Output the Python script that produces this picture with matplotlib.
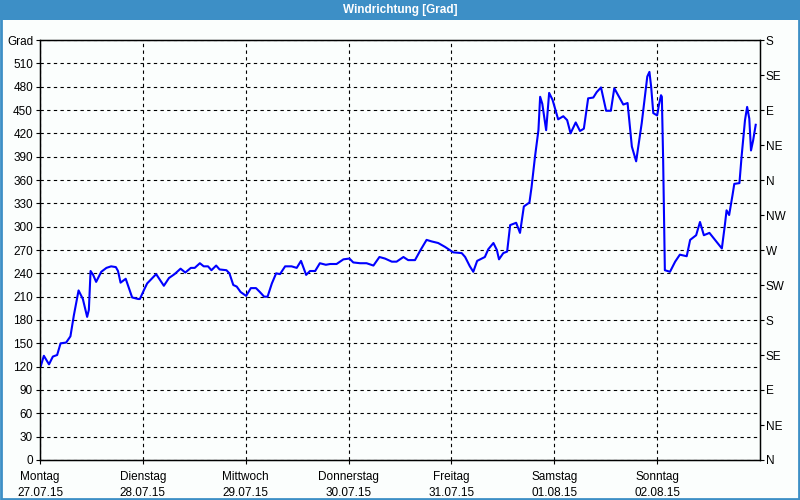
import matplotlib
matplotlib.use("Agg")
import matplotlib.pyplot as plt
from matplotlib.patches import Rectangle

# hours since Monday 27.07.15 00:00 and wind direction in degrees
hours = [0.2, 0.9, 2.1, 3.0, 4.0, 4.8, 6.1, 7.1, 7.9, 9.0, 10.0, 11.0, 11.4, 11.8,
         12.4, 13.1, 14.3, 15.5, 16.6, 17.7, 18.2, 18.8, 20.0, 20.7, 21.5, 22.9,
         23.3, 24.3, 25.0, 27.1, 28.9, 30.1, 31.4, 32.8, 33.9, 35.2, 36.1, 37.3,
         38.2, 39.2, 40.0, 41.1, 41.9, 43.5, 44.2, 45.1, 45.9, 46.8, 48.1, 49.2,
         50.4, 51.3, 52.3, 53.1, 54.1, 55.1, 56.0, 57.2, 58.7, 59.9, 60.9, 62.1,
         63.0, 64.2, 65.3, 66.7, 67.7, 69.2, 70.8, 72.2, 73.1, 74.7, 76.2, 77.8,
         79.2, 80.5, 82.1, 83.2, 84.8, 85.9, 87.5, 88.8, 90.2, 91.4, 92.9, 94.5,
         96.4, 98.4, 99.2, 100.3, 101.1, 102.0, 103.8, 104.6, 105.8, 106.6, 107.1,
         108.1, 109.0, 109.7, 111.1, 112.0, 112.9, 114.2, 114.7, 115.5, 116.3,
         116.7, 117.2, 118.1, 118.8, 119.6, 120.9, 122.1, 123.0, 123.8, 125.0,
         126.0, 126.9, 127.9, 129.1, 129.9, 130.9, 132.1, 133.2, 134.0, 134.9,
         136.1, 137.1, 138.1, 139.1, 140.4, 141.7, 142.2, 142.6, 143.1, 144.0,
         144.4, 144.9, 145.1, 145.4, 145.8, 147.0, 148.2, 149.3, 150.9, 151.7,
         153.1, 154.0, 154.9, 156.2, 157.5, 159.1, 159.8, 160.2, 160.8, 161.6,
         162.0, 163.2, 163.7, 164.5, 165.0, 165.5, 165.9, 166.4, 167.0]
degrees = [121, 134, 123, 133, 135, 150, 151, 159, 186, 218, 207, 184, 193, 243,
           238, 229, 242, 247, 249, 248, 243, 228, 233, 222, 209, 207,
           207, 219, 227, 239, 224, 234, 239, 246, 241, 247, 247, 253,
           249, 249, 244, 250, 245, 244, 240, 225, 223, 216, 211, 221,
           221, 216, 210, 210, 227, 240, 239, 249, 249, 247, 256, 238,
           243, 243, 253, 251, 252, 252, 258, 259, 254, 253, 253, 250,
           261, 259, 255, 255, 261, 257, 257, 270, 283, 281, 279, 274,
           267, 266, 261, 249, 242, 256, 261, 271, 279, 270, 258,
           266, 268, 302, 305, 292, 326, 331, 351, 390, 424,
           467, 458, 424, 472, 463, 438, 442, 437, 420, 434,
           423, 426, 465, 466, 473, 479, 449, 449, 478, 469,
           457, 459, 403, 384, 433, 493, 499, 480, 446, 443,
           456, 469, 467, 386, 244, 242, 255, 264, 262, 283,
           289, 306, 289, 292, 283, 272, 302, 321, 315, 341,
           355, 356, 390, 437, 454, 439, 398, 411, 431]

day_names = ["Montag", "Dienstag", "Mittwoch", "Donnerstag", "Freitag", "Samstag", "Sonntag"]
day_dates = ["27.07.15", "28.07.15", "29.07.15", "30.07.15", "31.07.15", "01.08.15", "02.08.15"]
left_ticks = list(range(0, 541, 30))
left_labels = [str(v) for v in range(0, 511, 30)] + ["Grad"]
right_ticks = list(range(0, 541, 45))
right_labels = ["N", "NE", "E", "SE", "S", "SW", "W", "NW", "N", "NE", "E", "SE", "S"]

bg = "#fbfefd"
bar = "#3d8fc6"
plt.rcParams["font.family"] = ["Liberation Sans", "DejaVu Sans"]

fig = plt.figure(figsize=(8, 5), dpi=100, facecolor=bg)
fig.patches.append(Rectangle((0, 0.96), 1, 0.04, transform=fig.transFigure,
                             facecolor=bar, edgecolor="none", zorder=0))
fig.patches.append(Rectangle((0.001, 0.002), 0.998, 0.997, transform=fig.transFigure,
                             facecolor="none", edgecolor=bar, linewidth=2, zorder=5))
fig.text(0.5, 0.979, "Windrichtung [Grad]", color="white", fontsize=8.5,
         fontweight="bold", ha="center", va="center")

ax = fig.add_axes([0.05, 0.08, 0.90, 0.84])
ax.set_facecolor(bg)
ax.plot(hours, degrees, color="#0000ff", linewidth=1.5, zorder=3)

ax.set_xlim(0, 168)
ax.set_ylim(0, 540)
ax.set_yticks(left_ticks)
ax.set_yticklabels(left_labels, fontsize=8.5)
ax.set_xticks([24 * i for i in range(7)])
ax.set_xticklabels([f"{n}\n{d}" for n, d in zip(day_names, day_dates)],
                   fontsize=8.5, linespacing=1.45)
ax.tick_params(axis="both", length=3, width=0.8, pad=2, colors="black")
ax.tick_params(axis="x", pad=5)
ax.grid(True, color="black", linestyle=(0, (3, 3)), linewidth=0.8)
for s in ax.spines.values():
    s.set_linewidth(1)

ax2 = ax.twinx()
ax2.set_ylim(0, 540)
ax2.set_yticks(right_ticks)
ax2.set_yticklabels(right_labels, fontsize=8.5)
ax2.tick_params(axis="y", length=3, width=0.8, pad=1)

fig.savefig("out.png", dpi=100, facecolor=bg)
